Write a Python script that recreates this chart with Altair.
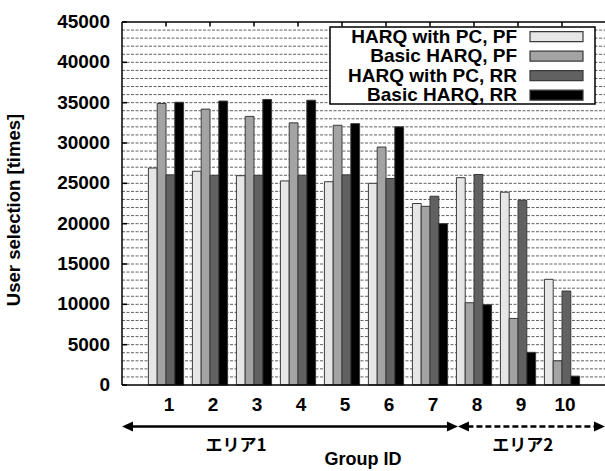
import altair as alt
import pandas as pd

groups = [1, 2, 3, 4, 5, 6, 7, 8, 9, 10]
series = ["HARQ with PC, PF", "Basic HARQ, PF", "HARQ with PC, RR", "Basic HARQ, RR"]
pc_pf = [26900, 26500, 25950, 25300, 25200, 25000, 22500, 25700, 23900, 13100]
basic_pf = [34900, 34200, 33300, 32500, 32200, 29500, 22150, 10200, 8250, 3000]
pc_rr = [26050, 26000, 26000, 26000, 26050, 25600, 23400, 26100, 22900, 11650]
basic_rr = [35050, 35200, 35400, 35300, 32400, 32000, 20000, 9950, 4050, 1100]
colors = ["#e6e6e6", "#a3a3a3", "#616161", "#000000"]
major_ticks = [0, 5000, 10000, 15000, 20000, 25000, 30000, 35000, 40000, 45000]
grid_values = list(range(1000, 45000, 1000))
area_labels = ["エリア1", "エリア2"]
x_title = "Group ID"
y_title = "User selection [times]"

W, H = 483, 363
FONT = "Liberation Sans"

rows = []
for si, (name, vals) in enumerate(zip(series, [pc_pf, basic_pf, pc_rr, basic_rr])):
    for g, v in zip(groups, vals):
        rows.append({"group": g, "series": name, "idx": si, "value": v})
df = pd.DataFrame(rows)

xscale = alt.Scale(domain=[0, 10.977], nice=False, zero=False)
yscale = alt.Scale(domain=[0, 45000], nice=False)
cscale = alt.Scale(domain=series, range=colors)

one = pd.DataFrame({"a": [0]})

grid = alt.Chart(pd.DataFrame({"v": grid_values})).mark_rule(
    color="black", strokeWidth=0.7, strokeDash=[3, 1.5], opacity=0.9).encode(
    y=alt.Y("v:Q", scale=yscale, axis=None), x=alt.value(0), x2=alt.value(W))

bars = alt.Chart(df).transform_calculate(
    x0="datum.group - 0.4 + 0.2 * datum.idx",
    x1="datum.group - 0.2 + 0.2 * datum.idx",
).mark_bar(stroke="#3a3a3a", strokeWidth=1).encode(
    x=alt.X("x0:Q", scale=xscale, axis=None),
    x2="x1:Q",
    y=alt.Y("value:Q", scale=yscale, axis=None),
    y2=alt.datum(0),
    color=alt.Color("series:N", scale=cscale, legend=None),
)

frame = [
    alt.Chart(one).mark_rule(color="black", strokeWidth=1.5).encode(
        x=alt.value(0), x2=alt.value(W), y=alt.value(0)),
    alt.Chart(one).mark_rule(color="black", strokeWidth=1.5).encode(
        x=alt.value(0), x2=alt.value(W), y=alt.value(H)),
    alt.Chart(one).mark_rule(color="black", strokeWidth=1.5).encode(
        x=alt.value(0), y=alt.value(0), y2=alt.value(H)),
]

top_ticks = alt.Chart(pd.DataFrame({"group": groups})).mark_rule(color="black", strokeWidth=1.5).encode(
    x=alt.X("group:Q", scale=xscale, axis=None), y=alt.value(0), y2=alt.value(4.5))

left_ticks = alt.Chart(pd.DataFrame({"v": major_ticks})).mark_rule(color="black", strokeWidth=1.5).encode(
    y=alt.Y("v:Q", scale=yscale, axis=None), x=alt.value(0), x2=alt.value(5))

# tick labels and titles
ylab = alt.Chart(pd.DataFrame({"v": major_ticks})).transform_calculate(
    t="format(datum.v, 'd')").mark_text(
    align="right", baseline="middle", font=FONT, fontSize=19, fontWeight="bold", color="black").encode(
    y=alt.Y("v:Q", scale=yscale, axis=None), x=alt.value(-12), text="t:N")
xlab = alt.Chart(pd.DataFrame({"group": groups})).mark_text(
    align="center", baseline="middle", font=FONT, fontSize=19, fontWeight="bold", color="black", dx=3).encode(
    x=alt.X("group:Q", scale=xscale, axis=None), y=alt.value(H + 20), text="group:N")
ytitle = alt.Chart(pd.DataFrame({"t": [y_title]})).mark_text(
    angle=270, align="center", baseline="middle", font=FONT, fontSize=18.5, fontWeight="bold",
    color="black").encode(x=alt.value(-108), y=alt.value(188), text="t:N")
xtitle = alt.Chart(pd.DataFrame({"t": [x_title]})).mark_text(
    align="center", baseline="middle", font=FONT, fontSize=18, fontWeight="bold",
    color="black").encode(x=alt.value(241), y=alt.value(H + 75), text="t:N")

# legend
leg = pd.DataFrame({"series": series})
legend_layers = [alt.Chart(one).mark_rect(fill="white", stroke="black", strokeWidth=1.5).encode(
    x=alt.value(208), x2=alt.value(473), y=alt.value(5), y2=alt.value(82))]
for i, name in enumerate(series):
    cy = 14.7 + 19.5 * i
    sub = alt.Chart(leg).transform_filter(alt.datum.series == name)
    legend_layers.append(sub.mark_rect(stroke="#3a3a3a", strokeWidth=1.2).encode(
        x=alt.value(408), x2=alt.value(461), y=alt.value(cy - 5), y2=alt.value(cy + 5),
        color=alt.Color("series:N", scale=cscale, legend=None)))
    legend_layers.append(sub.mark_text(align="right", baseline="middle", font=FONT, fontSize=19,
                                       fontWeight="bold", color="black").encode(
        x=alt.value(395), y=alt.value(cy), text="series:N"))

# area arrows
AY = 404.5
solid = alt.Chart(one).mark_rule(color="black", strokeWidth=2.5).encode(
    x=alt.datum(0.2, scale=xscale, axis=None), x2=alt.datum(7.45), y=alt.value(AY))
dashed = alt.Chart(one).mark_rule(color="black", strokeWidth=2.5, strokeDash=[6, 3]).encode(
    x=alt.datum(7.85, scale=xscale, axis=None), x2=alt.datum(10.8), y=alt.value(AY))
left_path = "M0,0 L2,-0.9 L2,0.9 Z"
right_path = "M0,0 L-2,-0.9 L-2,0.9 Z"
heads = pd.DataFrame({"hx": [0.0, 7.635, 7.635, 10.977], "dir": ["l", "r", "l", "r"]})
head_l = alt.Chart(heads).transform_filter("datum.dir == 'l'").mark_point(
    shape=left_path, filled=True, color="black", opacity=1, size=121).encode(
    x=alt.X("hx:Q", scale=xscale, axis=None), y=alt.value(AY))
head_r = alt.Chart(heads).transform_filter("datum.dir == 'r'").mark_point(
    shape=right_path, filled=True, color="black", opacity=1, size=121).encode(
    x=alt.X("hx:Q", scale=xscale, axis=None), y=alt.value(AY))
area_df = pd.DataFrame({"label": area_labels, "ax": [2.59, 9.11]})
area_tx = alt.Chart(area_df).mark_text(font="Noto Sans CJK JP", fontSize=17, fontWeight="bold",
                                       baseline="middle", align="center", color="black").encode(
    x=alt.X("ax:Q", scale=xscale, axis=None), y=alt.value(424), text="label:N")

chart = alt.layer(grid, bars, *frame, top_ticks, left_ticks, ylab, xlab, ytitle, xtitle,
                  *legend_layers, solid, dashed, head_l, head_r, area_tx).properties(
    width=W, height=H,
    padding={"left": 122, "top": 22, "right": 0, "bottom": 86},
    autosize=alt.AutoSizeParams(type="none"),
    background="white",
).configure_view(stroke=None)

chart.save("out.html", embed_options={"renderer": "svg", "actions": False})
